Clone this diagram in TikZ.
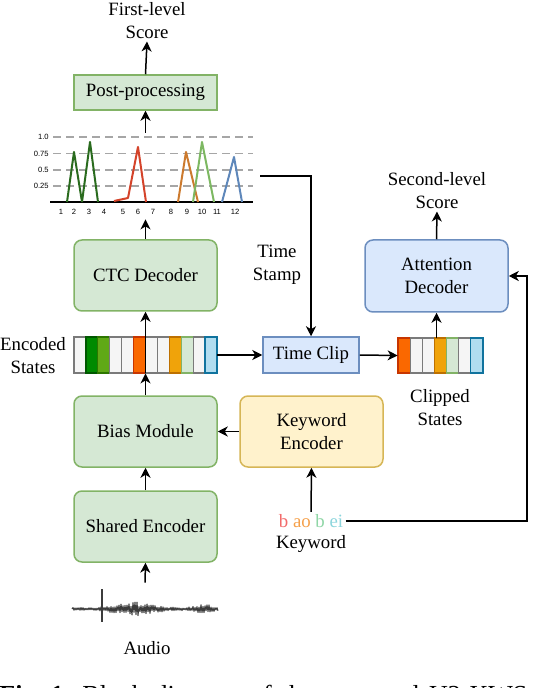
\documentclass[tikz,border=0pt]{standalone}
\usepackage{fontspec}
\setmainfont{Liberation Serif}
\setsansfont{Liberation Sans}
\usepackage{xcolor}
\usetikzlibrary{positioning,calc,arrows.meta}

\definecolor{greenfill}{HTML}{D5E8D4}
\definecolor{greenline}{HTML}{82B366}
\definecolor{bluefill}{HTML}{DAE8FC}
\definecolor{blueline}{HTML}{6C8EBF}
\definecolor{yellowfill}{HTML}{FFF2CC}
\definecolor{yellowline}{HTML}{D6B656}
% state cells
\definecolor{fillgray}{HTML}{F5F5F5}\definecolor{linegray}{HTML}{7A7A7A}
\definecolor{filldkgreen}{HTML}{008A00}\definecolor{linedkgreen}{HTML}{005700}
\definecolor{fillgreen}{HTML}{60A917}\definecolor{linegreen}{HTML}{2D7600}
\definecolor{fillorange}{HTML}{FA6800}\definecolor{lineorange}{HTML}{C73500}
\definecolor{fillamber}{HTML}{F0A30A}\definecolor{lineamber}{HTML}{BD7000}
\definecolor{fillltgreen}{HTML}{D5E8D4}\definecolor{lineltgreen}{HTML}{82B366}
\definecolor{fillltblue}{HTML}{B1DDF0}\definecolor{lineltblue}{HTML}{10739E}
% ctc peaks
\definecolor{peakdkgreen}{HTML}{2A6B1E}
\definecolor{peakred}{HTML}{D4432A}
\definecolor{peakorange}{HTML}{CC7A2E}
\definecolor{peakltgreen}{HTML}{7DB862}
\definecolor{peakblue}{HTML}{5E87BA}
% pinyin
\definecolor{pyb}{HTML}{F26B6B}
\definecolor{pyao}{HTML}{F5A04A}
\definecolor{pybb}{HTML}{8FD6A6}
\definecolor{pyei}{HTML}{8CD5DC}
\definecolor{wavegray}{HTML}{3C3C3C}

\newcommand{\diagfont}{\fontsize{9.4}{11.5}\selectfont}
\newcommand{\tickfont}{\fontsize{3.8}{4}\selectfont\sffamily}

\begin{document}
\begin{tikzpicture}[x=0.5pt, y=-0.5pt,
        greenbox/.style={
            rectangle, draw=greenline, fill=greenfill, line width=0.75pt,
            minimum width=71.5pt, minimum height=35.5pt,
            font=\diagfont, align=center, rounded corners=4pt
          },
        bluebox/.style={
            rectangle, draw=blueline, fill=bluefill, line width=0.75pt,
            minimum width=71.5pt, minimum height=36pt,
            font=\diagfont, align=center, rounded corners=4pt
          },
        yellowbox/.style={
            rectangle, draw=yellowline, fill=yellowfill, line width=0.75pt,
            minimum width=71.5pt, minimum height=35.5pt,
            font=\diagfont, align=center, rounded corners=4pt
          },
        lbl/.style={font=\diagfont, align=center, inner sep=1pt},
        arr/.style={-{Stealth[length=5pt, width=5pt, inset=1.5pt]}, line width=0.75pt},
        grid/.style={draw=gray!70, dashed, dash pattern=on 4pt off 2.5pt, line width=0.6pt},
        peak/.style={line width=1pt, line join=round},
      ]
      \useasboundingbox (0,0) rectangle (532,688);

      % Main column
      \node [greenbox, rounded corners=0pt, minimum height=17.5pt] (post) at (145.5,92.5) {Post-processing};
      \node [greenbox] (ctc) at (145.5,275.5) {CTC Decoder};
      \node [greenbox] (bias) at (145.5,431.5) {Bias Module};
      \node [greenbox] (shared) at (145.5,526.5) {Shared Encoder};
      \node [minimum width=110pt, minimum height=43pt, inner sep=0pt] (chart) at (150,176) {};
      \node [minimum width=71.5pt, minimum height=18pt, inner sep=0pt] (enc) at (145.5,355) {};
      \node [minimum width=73pt, minimum height=24pt, inner sep=0pt] (audio) at (145,607) {};

      % Right side
      \node [bluebox, rounded corners=0pt, minimum width=48pt, minimum height=18pt] (clip) at (311,355) {Time Clip};
      \node [bluebox] (att) at (436.5,276) {Attention\\Decoder};
      \node [yellowbox] (kwenc) at (311.5,431.5) {Keyword\\Encoder};
      \node [minimum width=42.5pt, minimum height=17.5pt, inner sep=0pt] (clipped) at (440.5,355.5) {};

      % Texts
      \node [lbl] (first) at (147,21) {First-level\\Score};
      \node [lbl] (second) at (437,191) {Second-level\\Score};
      \node [lbl] (enclbl) at (33,356) {Encoded\\States};
      \node [lbl] (cliplbl) at (440,408) {Clipped\\States};
      \node [lbl] (stamp) at (277,265) {Time\\Stamp};
      \node [lbl] (pinyin) at (311,521) {\color{pyb}b \color{pyao}ao \color{pybb}b \color{pyei}ei};
      \node [lbl] (kw) at (311,544) {Keyword};
      \node [lbl] (audiolbl) at (147,648) {Audio};
      \node [anchor=base west, inner sep=0pt, font=\fontsize{13}{15}\selectfont] (caption) at (-1,703)
        {\makebox[264pt][s]{\mbox{\textbf{Fig. 1:}} Block diagram of the proposed U2-KWS}};

      % CTC spikes
      \foreach \y/\t in {137/1.0, 153.5/0.75, 170/0.5, 186/0.25} {
          \draw [grid] (53,\y) -- (253,\y);
          \node [anchor=east, inner sep=0pt, font=\tickfont] at (49,\y) {\t};
        }
      \draw [line width=0.6pt] (50,202) -- (253,202);
      \foreach \x [count=\n] in {61,74,89,104,123,138,153,171,187,202,217,235}
        \node [inner sep=0pt, font=\tickfont] at (\x,212) {\n};
      \draw [peak, peakdkgreen] (67,202) -- (74,152) -- (82,202);
      \draw [peak, peakdkgreen] (82,202) -- (90,142) -- (98,202);
      \draw [peak, peakred] (114,201) -- (128,198) -- (138,147) -- (146,202);
      \draw [peak, peakorange] (178,202) -- (186,152) -- (198,202);
      \draw [peak, peakltgreen] (193,202) -- (202,142) -- (214,202);
      \draw [peak, peakblue] (222,202) -- (234,157) -- (242,202);

      % State cells
      \foreach \c [count=\i from 0] in {gray,dkgreen,green,gray,gray,orange,gray,gray,amber,ltgreen,gray,ltblue}
        \draw [line width=0.6pt, draw=line\c, fill=fill\c] ({74+\i*11.917},337) rectangle ++(11.917,36);
      \foreach \c [count=\i from 0] in {orange,gray,gray,amber,ltgreen,gray,ltblue}
        \draw [line width=0.6pt, draw=line\c, fill=fill\c] ({398+\i*12.143},338) rectangle ++(12.143,35);

      % Waveform
      \pgfmathsetseed{11}
      \draw [wavegray, line width=0.5pt, line join=round] (72,609)
        \foreach \i in {1,...,146} {
          -- ({72+\i},{609+(1-2*mod(\i,2))*(1.5+5.5*exp(-((\i-62)/24)^2)+3.5*exp(-((\i-132)/11)^2))*(0.35+0.65*rnd)})
        };
      \draw [wavegray, line width=0.6pt] (102,589) -- (102,622);

      % Connections
      \draw [arr] (post.north) -- (first.south);
      \draw [arr] (chart.north -| post.south) -- (post.south);
      \draw [arr] (ctc.north) -- (ctc.north |- chart.south);
      \draw [arr] (bias.north) -- (enc.south);
      \draw [arr] (enc.south) -- (ctc.south);
      \draw [arr] (shared.north) -- (bias.south);
      \draw [arr] (audio.north) -- (shared.south);
      \draw [arr] (enc.east) -- (clip.west);
      \draw [arr] (clip.east) -- (clipped.west);
      \draw [arr] (clipped.north -| att.south) -- (att.south);
      \draw [arr] (att.north) -- (second.south);
      \draw [arr] (chart.east) -| (clip.north);
      \draw [arr] (kwenc.west) -- (bias.east);
      \draw [arr] (pinyin.north) -- (kwenc.south);
      \draw [arr] (pinyin.east) -| ([xshift=9pt]att.east) -- (att.east);
    \end{tikzpicture}
\end{document}
